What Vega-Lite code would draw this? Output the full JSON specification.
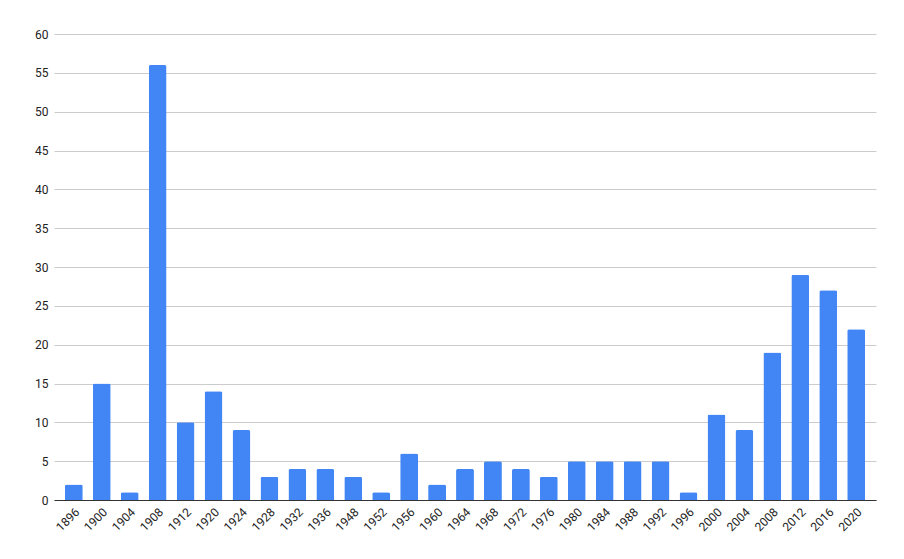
{
  "$schema": "https://vega.github.io/schema/vega-lite/v6.json",
  "width": 822,
  "height": 466,
  "autosize": {"type": "none"},
  "padding": {"left": 54, "top": 34, "right": 28, "bottom": 59},
  "background": "white",
  "data": {
    "values": [
      {"year": "1896", "count": 2},
      {"year": "1900", "count": 15},
      {"year": "1904", "count": 1},
      {"year": "1908", "count": 56},
      {"year": "1912", "count": 10},
      {"year": "1920", "count": 14},
      {"year": "1924", "count": 9},
      {"year": "1928", "count": 3},
      {"year": "1932", "count": 4},
      {"year": "1936", "count": 4},
      {"year": "1948", "count": 3},
      {"year": "1952", "count": 1},
      {"year": "1956", "count": 6},
      {"year": "1960", "count": 2},
      {"year": "1964", "count": 4},
      {"year": "1968", "count": 5},
      {"year": "1972", "count": 4},
      {"year": "1976", "count": 3},
      {"year": "1980", "count": 5},
      {"year": "1984", "count": 5},
      {"year": "1988", "count": 5},
      {"year": "1992", "count": 5},
      {"year": "1996", "count": 1},
      {"year": "2000", "count": 11},
      {"year": "2004", "count": 9},
      {"year": "2008", "count": 19},
      {"year": "2012", "count": 29},
      {"year": "2016", "count": 27},
      {"year": "2020", "count": 22}
    ]
  },
  "mark": {
    "type": "bar",
    "color": "#4285F4",
    "cornerRadiusTopLeft": 2,
    "cornerRadiusTopRight": 2
  },
  "encoding": {
    "x": {
      "field": "year",
      "type": "ordinal",
      "sort": null,
      "scale": {"paddingInner": 0.36, "paddingOuter": 0.39},
      "axis": {
        "title": null,
        "labelAngle": -45,
        "ticks": false,
        "labelPadding": 6,
        "labelFont": "Roboto",
        "labelFontSize": 12,
        "labelColor": "#222222",
        "domainColor": "#333333",
        "domainWidth": 1
      }
    },
    "y": {
      "field": "count",
      "type": "quantitative",
      "scale": {"domain": [0, 60]},
      "axis": {
        "title": null,
        "values": [0, 5, 10, 15, 20, 25, 30, 35, 40, 45, 50, 55, 60],
        "ticks": false,
        "domain": false,
        "labelPadding": 6,
        "labelFont": "Roboto",
        "labelFontSize": 12,
        "labelColor": "#222222",
        "gridColor": "#cccccc"
      }
    }
  },
  "config": {"view": {"stroke": null}}
}
